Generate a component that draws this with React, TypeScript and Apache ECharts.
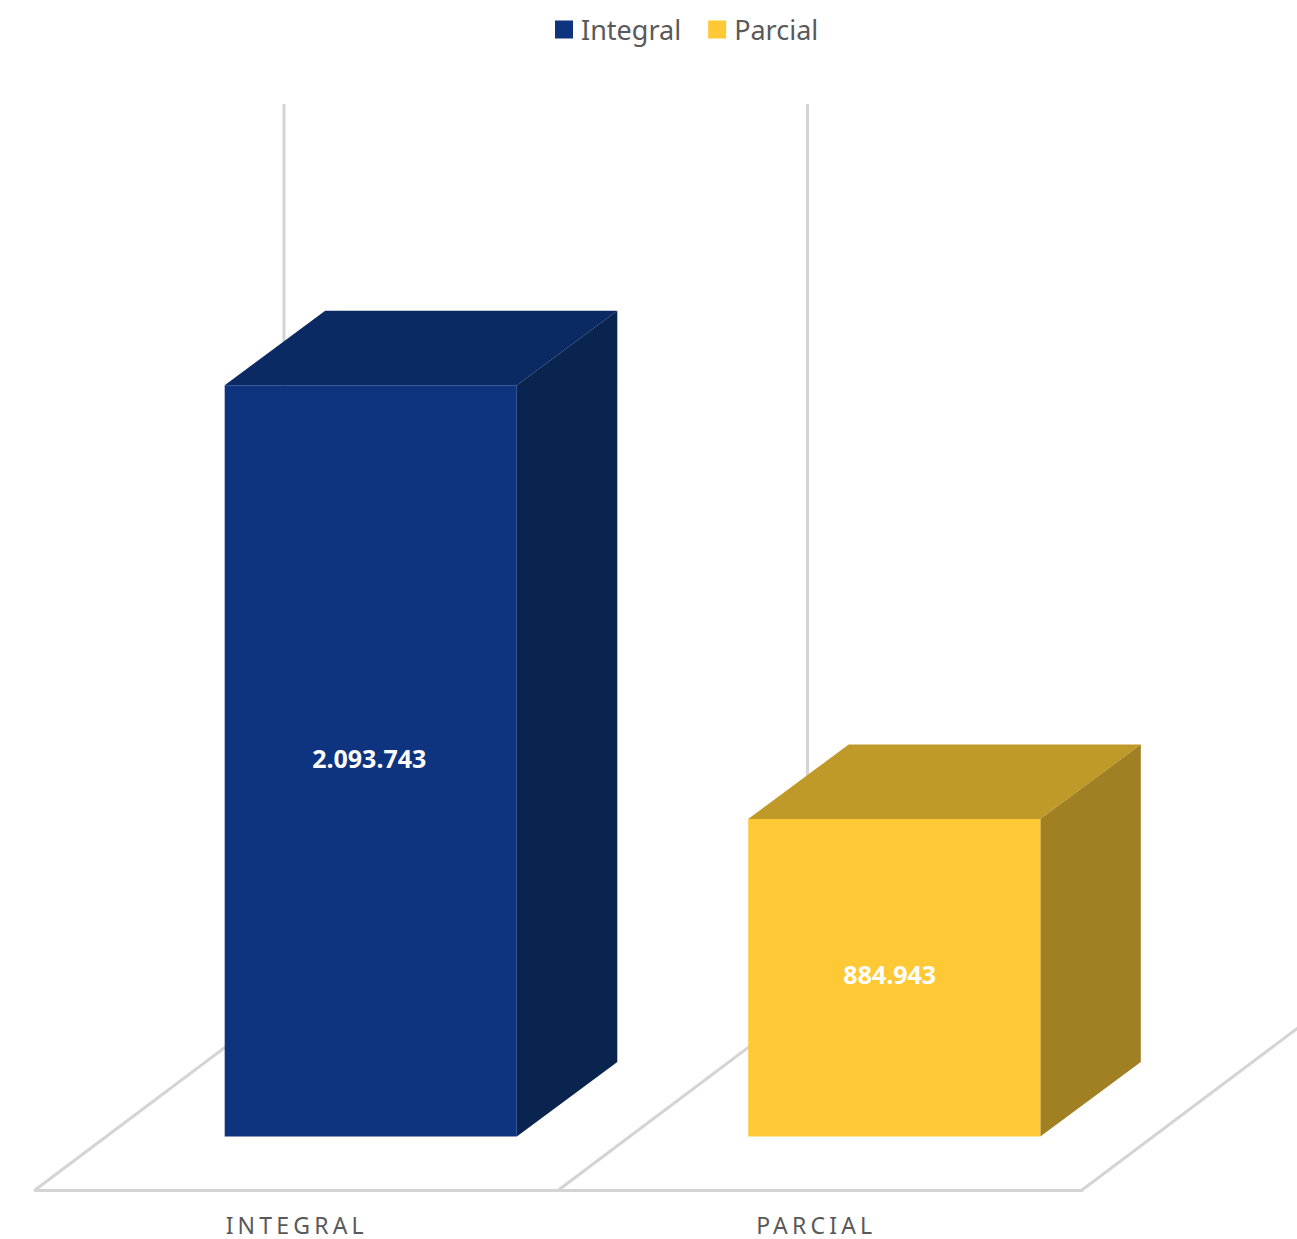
import React, { useEffect, useRef } from "react";
import * as echarts from "echarts";

const categories = ["INTEGRAL", "PARCIAL"];
const seriesNames = ["Integral", "Parcial"];
const integralValues = [["INTEGRAL", 2093743]];
const parcialValues = [["PARCIAL", 884943]];
const axisMax = 2500000;

const integralColors = { front: "#0E337F", top: "#0B2962", side: "#09244F" };
const parcialColors = { front: "#FFC936", top: "#BF9A29", side: "#A18024" };

const wallColor = "#D4D4D4";
const textColor = "#595959";
const fontFamily = "'Noto Sans', 'Open Sans', sans-serif";

const formatValue = (v: number) => String(Math.round(v)).replace(/\B(?=(\d{3})+$)/g, ".");

const barRatio = 0.558;
const boxDepth = [100.5, -74.5];
const barInset = [74, -53.5];
const floorDepth = [249, -187];
const wallOverrun = 2;
const axisLabelNudge = [0, -4];

function boxRenderer(colors: { front: string; top: string; side: string }, labelDx: number, labelDy: number) {
  return (_params: any, api: any) => {
    const idx = api.value(0);
    const value = api.value(1);
    const base = api.coord([idx, 0]);
    const tip = api.coord([idx, value]);
    const w = api.size([1, 0])[0] * barRatio;
    const x0 = base[0] + barInset[0] - w / 2;
    const x1 = x0 + w;
    const yb = base[1] + barInset[1];
    const yt = tip[1] + barInset[1];
    const [dx, dy] = boxDepth;
    return {
      type: "group",
      children: [
        { type: "polygon", shape: { points: [[x0, yt], [x1, yt], [x1 + dx, yt + dy], [x0 + dx, yt + dy]] }, style: { fill: colors.top } },
        { type: "polygon", shape: { points: [[x1, yt], [x1 + dx, yt + dy], [x1 + dx, yb + dy], [x1, yb]] }, style: { fill: colors.side } },
        { type: "rect", shape: { x: x0, y: yt, width: w, height: yb - yt }, style: { fill: colors.front } },
        {
          type: "text",
          style: {
            x: (x0 + x1) / 2 + labelDx,
            y: (yt + yb) / 2 + labelDy,
            text: formatValue(value),
            fill: "#FFFFFF",
            fontSize: 25,
            fontWeight: "bold",
            fontFamily,
            align: "center",
            verticalAlign: "middle",
          },
        },
      ],
    };
  };
}

function floorRenderer(params: any, api: any) {
  const i = params.dataIndex;
  const band = api.size([1, 0])[0];
  const origin = api.coord([0, 0]);
  const top = api.coord([0, axisMax]);
  const edges = i === categories.length - 1 ? [i, i + 1] : [i];
  return {
    type: "group",
    children: edges.map((e) => {
      const x = origin[0] - band / 2 + e * band;
      return {
        type: "polyline",
        shape: {
          points: [
            [x, origin[1]],
            [x + floorDepth[0], origin[1] + floorDepth[1]],
            [x + floorDepth[0], top[1] + floorDepth[1] - wallOverrun],
          ],
        },
        style: { stroke: wallColor, lineWidth: 3, fill: "none" },
      };
    }),
  };
}

export default function App() {
  const ref = useRef<HTMLDivElement>(null);
  useEffect(() => {
    const chart = echarts.init(ref.current!, undefined, { renderer: "svg" });
    chart.setOption({
      animation: false,
      backgroundColor: "#FFFFFF",
      legend: {
        data: seriesNames,
        left: 555,
        top: 16,
        padding: 0,
        icon: "rect",
        itemWidth: 18,
        itemHeight: 18,
        itemGap: 27,
        textStyle: { color: textColor, fontSize: 27, fontFamily, padding: [0, 0, 0, 3] },
      },
      grid: { left: 35, width: 1047, top: 293, height: 897, containLabel: false },
      xAxis: {
        type: "category",
        data: categories,
        axisLine: { show: true, lineStyle: { color: wallColor, width: 3 } },
        axisTick: { show: false },
        axisLabel: { color: textColor, fontSize: 23, fontFamily, margin: 23, interval: 0 },
      },
      yAxis: { type: "value", min: 0, max: axisMax, show: false, splitLine: { show: false } },
      series: [
        {
          type: "custom",
          coordinateSystem: "cartesian2d",
          data: categories.map((c) => [c, 0]),
          encode: { x: 0, y: 1 },
          clip: false,
          silent: true,
          z: 1,
          renderItem: floorRenderer,
        },
        {
          type: "custom",
          name: seriesNames[0],
          coordinateSystem: "cartesian2d",
          data: integralValues,
          encode: { x: 0, y: 1 },
          clip: false,
          z: 3,
          itemStyle: { color: integralColors.front },
          renderItem: boxRenderer(integralColors, -1.5, -3),
        },
        {
          type: "custom",
          name: seriesNames[1],
          coordinateSystem: "cartesian2d",
          data: parcialValues,
          encode: { x: 0, y: 1 },
          clip: false,
          z: 3,
          itemStyle: { color: parcialColors.front },
          renderItem: boxRenderer(parcialColors, -4.5, -4),
        },
      ],
    });
    ref.current!.querySelectorAll("text").forEach((t) => {
      const i = categories.indexOf((t.textContent || "").trim());
      if (i >= 0) {
        t.style.letterSpacing = "4.2px";
        t.setAttribute("dx", String(axisLabelNudge[i]));
      }
    });
    return () => chart.dispose();
  }, []);
  return <div ref={ref} style={{ position: "fixed", left: 0, top: 0, width: 1297, height: 1239 }} />;
}
